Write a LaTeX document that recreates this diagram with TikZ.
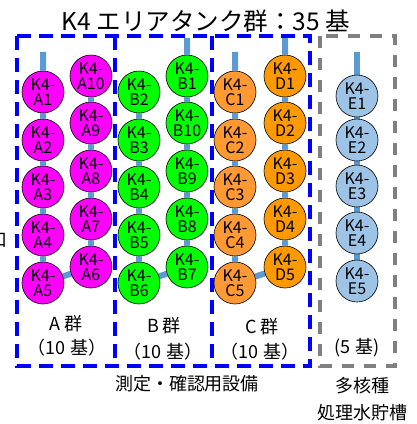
\documentclass[tikz,border=0pt]{standalone}
\usepackage{fontspec}
\setmainfont{Noto Sans CJK JP}
\usetikzlibrary{backgrounds}
\definecolor{cA}{RGB}{255,0,255}
\definecolor{cB}{RGB}{0,255,0}
\definecolor{cC}{RGB}{255,153,51}
\definecolor{cD}{RGB}{255,153,0}
\definecolor{cE}{RGB}{157,195,230}
\definecolor{pipe}{RGB}{91,155,213}
\definecolor{grp}{RGB}{0,0,255}
\definecolor{grayb}{RGB}{128,128,128}
\tikzset{
  tank/.style={circle, draw=black, line width=0.6pt, minimum size=42pt, inner sep=0pt,
    align=center, font=\fontsize{16}{15}\selectfont},
  pipeline/.style={draw=pipe, line width=6pt},
  bluebox/.style={draw=grp, line width=3.5pt, dash pattern=on 14pt off 8pt},
  graybox/.style={draw=grayb, line width=3.5pt, dash pattern=on 12pt off 10pt},
  lbl/.style={font=\fontsize{18}{21}\selectfont, inner sep=0pt},
}
\begin{document}
\begin{tikzpicture}[x=1pt,y=-1pt]
\useasboundingbox (0,0) rectangle (416,424);
% title
\node[font=\fontsize{24.5}{28}\selectfont, inner sep=0pt] (title) at (206,21) {K4 エリアタンク群：35 基};
% clipped glyph at left edge
\node[lbl] (edge) at (-1,240) {口};
% boxes
\draw[bluebox] (17,36) rectangle (310,366);
\draw[bluebox] (115,36) -- (115,366);
\draw[bluebox] (212,36) -- (212,366);
\draw[graybox] (320,36) rectangle (395,366);
% tanks
\foreach \n/\y in {1/92,2/140,3/187,4/235,5/283}{
  \node[tank, fill=cA] (A\n) at (43,\y) {K4-\\A\n};
}
\foreach \n/\y in {10/76,9/123,8/171,7/219,6/267}{
  \node[tank, fill=cA] (A\n) at (91,\y) {K4-\\A\n};
}
\foreach \n/\y in {2/92,3/140,4/187,5/235,6/283}{
  \node[tank, fill=cB] (B\n) at (139,\y) {K4-\\B\n};
}
\foreach \n/\y in {1/76,10/123,9/171,8/219,7/267}{
  \node[tank, fill=cB] (B\n) at (187,\y) {K4-\\B\n};
}
\foreach \n/\y in {1/92,2/140,3/187,4/235,5/283}{
  \node[tank, fill=cC] (C\n) at (235,\y) {K4-\\C\n};
}
\foreach \n/\y in {1/76,2/123,3/171,4/219,5/267}{
  \node[tank, fill=cD] (D\n) at (285,\y) {K4-\\D\n};
}
\foreach \n/\y in {1/96,2/140,3/186,4/233,5/281}{
  \node[tank, fill=cE] (E\n) at (357,\y) {K4-\\E\n};
}
% stub ends
\coordinate (sA) at (43,52);
\coordinate (sB) at (187,38);
\coordinate (sC) at (235,52);
\coordinate (sD) at (285,38);
\coordinate (sE) at (357,52);
\begin{scope}[on background layer]
  \draw[pipeline] (sA) -- (A1) -- (A2) -- (A3) -- (A4) -- (A5) -- (A6) -- (A7) -- (A8) -- (A9) -- (A10);
  \draw[pipeline] (B2) -- (B3) -- (B4) -- (B5) -- (B6) -- (B7) -- (B8) -- (B9) -- (B10) -- (B1) -- (sB);
  \draw[pipeline] (sC) -- (C1) -- (C2) -- (C3) -- (C4) -- (C5) -- (D5) -- (D4) -- (D3) -- (D2) -- (D1) -- (sD);
  \draw[pipeline] (sE) -- (E1) -- (E2) -- (E3) -- (E4) -- (E5);
\end{scope}
% labels
\node[lbl] (gA) at (66,324) {A 群};
\node[lbl] (nA) at (67,348) {（10 基）};
\node[lbl] (gB) at (164,326) {B 群};
\node[lbl] (nB) at (163,352) {（10 基）};
\node[lbl] (gC) at (262,327) {C 群};
\node[lbl] (nC) at (260,352) {（10 基）};
\node[lbl] (nE) at (357,348) {(5 基)};
\node[lbl] (lab1) at (187,384) {測定・確認用設備};
\node[lbl] (lab2) at (362,386) {多核種};
\node[lbl] (lab3) at (362,413) {処理水貯槽};
\end{tikzpicture}
\end{document}
